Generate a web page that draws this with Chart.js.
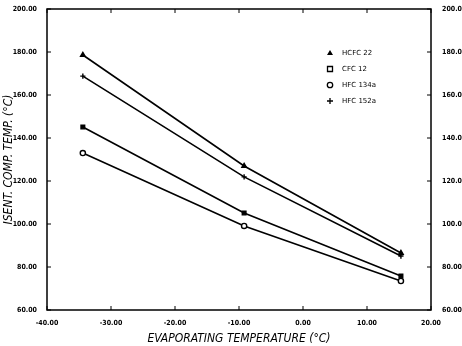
<!DOCTYPE html>
<html>
<head>
<meta charset="utf-8">
<script src="https://cdn.jsdelivr.net/npm/chart.js@4/dist/chart.umd.min.js"></script>
<style>
  html, body { margin: 0; padding: 0; background: #fff; }
  #wrap { width: 462px; height: 346px; }
</style>
</head>
<body>
<div id="wrap"><canvas id="myChart" width="462" height="346"></canvas></div>
<script>
// values
const temps = [-34.4, -9.2, 15.3];
const hcfc22 = [178.6, 127.0, 86.5];
const cfc12 = [145.1, 105.1, 75.8];
const hfc134a = [133.0, 99.1, 73.5];
const hfc152a = [168.8, 121.9, 85.1];
const seriesNames = ['HCFC 22', 'CFC 12', 'HFC 134a', 'HFC 152a'];
const seriesStyles = ['triangle', 'rect', 'circle', 'cross'];
const xTicks = [-40, -30, -20, -10, 0, 10, 20];
const yTicks = [60, 80, 100, 120, 140, 160, 180, 200];

const tickFont = { family: 'DejaVu Sans Condensed', size: 7, weight: 'bold' };
const titleFont = { family: 'DejaVu Sans Condensed', size: 12, style: 'italic' };

function pts(vals) {
  return temps.map((t, i) => ({ x: t, y: vals[i] }));
}

function makeSet(name, vals, style) {
  return {
    label: name,
    data: pts(vals),
    showLine: true,
    borderColor: '#000',
    backgroundColor: style === 'rect' || style === 'triangle' ? '#000' : '#fff',
    borderWidth: 1.6,
    pointStyle: style,
    pointRadius: 2.6,
    pointBorderWidth: 1.4,
    pointBorderColor: '#000',
    tension: 0
  };
}

// inward tick marks on all four sides + legend inside plot
const frame = {
  id: 'frame',
  afterDraw(chart) {
    const c = chart.ctx, a = chart.chartArea;
    const xs = chart.scales.x, ys = chart.scales.y;
    c.save();
    c.strokeStyle = '#000';
    c.lineWidth = 1.5;
    c.strokeRect(a.left, a.top, a.right - a.left, a.bottom - a.top);
    c.lineWidth = 1;
    c.beginPath();
    xTicks.forEach(v => {
      const px = xs.getPixelForValue(v);
      c.moveTo(px, a.bottom); c.lineTo(px, a.bottom - 4);
      c.moveTo(px, a.top); c.lineTo(px, a.top + 4);
    });
    yTicks.forEach(v => {
      const py = ys.getPixelForValue(v);
      c.moveTo(a.left, py); c.lineTo(a.left + 4, py);
      c.moveTo(a.right, py); c.lineTo(a.right - 4, py);
    });
    c.stroke();

    // legend
    const lx = a.left + 283, ly = a.top + 44, step = 16;
    c.font = '7px "DejaVu Sans"';
    c.fillStyle = '#000';
    c.textBaseline = 'middle';
    seriesNames.forEach((n, i) => {
      const y = ly + i * step, x = lx;
      c.beginPath();
      c.lineWidth = 1.3;
      if (seriesStyles[i] === 'triangle') {
        c.moveTo(x, y - 3); c.lineTo(x + 3, y + 2); c.lineTo(x - 3, y + 2); c.closePath(); c.fill();
      } else if (seriesStyles[i] === 'rect') {
        c.rect(x - 2.5, y - 2.5, 5, 5); c.stroke();
      } else if (seriesStyles[i] === 'circle') {
        c.arc(x, y, 2.7, 0, Math.PI * 2); c.stroke();
      } else {
        c.moveTo(x - 3, y); c.lineTo(x + 3, y); c.moveTo(x, y - 3); c.lineTo(x, y + 3); c.stroke();
      }
      c.fillText(n, x + 12, y);
    });
    c.restore();
  }
};

new Chart(document.getElementById('myChart'), {
  type: 'scatter',
  data: {
    datasets: [
      makeSet(seriesNames[0], hcfc22, seriesStyles[0]),
      makeSet(seriesNames[1], cfc12, seriesStyles[1]),
      makeSet(seriesNames[2], hfc134a, seriesStyles[2]),
      makeSet(seriesNames[3], hfc152a, seriesStyles[3])
    ]
  },
  options: {
    responsive: false,
    animation: false,
    layout: { padding: { top: 9, left: 2, right: 0, bottom: 0 } },
    plugins: { legend: { display: false }, tooltip: { enabled: false } },
    scales: {
      x: {
        type: 'linear',
        min: -40, max: 20,
        afterBuildTicks: s => { s.ticks = xTicks.map(v => ({ value: v })); },
        afterFit: s => { s.height = 36; },
        grid: { display: false },
        border: { display: false },
        ticks: { color: '#000', font: tickFont, padding: 1, maxRotation: 0, callback: v => v.toFixed(2) },
        title: {
          display: true,
          text: 'EVAPORATING TEMPERATURE (°C)',
          color: '#000',
          font: titleFont,
          padding: { top: 3, bottom: 0 }
        }
      },
      y: {
        min: 60, max: 200,
        afterBuildTicks: s => { s.ticks = yTicks.map(v => ({ value: v })); },
        afterFit: s => { s.width = 45; },
        grid: { display: false },
        border: { display: false },
        ticks: { color: '#000', font: tickFont, padding: 2, callback: v => v.toFixed(2) },
        title: {
          display: true,
          text: 'ISENT. COMP. TEMP. (°C)',
          color: '#000',
          font: titleFont,
          padding: { top: 0, bottom: 1 }
        }
      },
      y2: {
        position: 'right',
        min: 60, max: 200,
        afterBuildTicks: s => { s.ticks = yTicks.map(v => ({ value: v })); },
        afterFit: s => { s.width = 31; },
        grid: { display: false },
        border: { display: false },
        ticks: { color: '#000', font: tickFont, padding: 3, callback: v => v.toFixed(2) }
      }
    }
  },
  plugins: [frame]
});
</script>
</body>
</html>
